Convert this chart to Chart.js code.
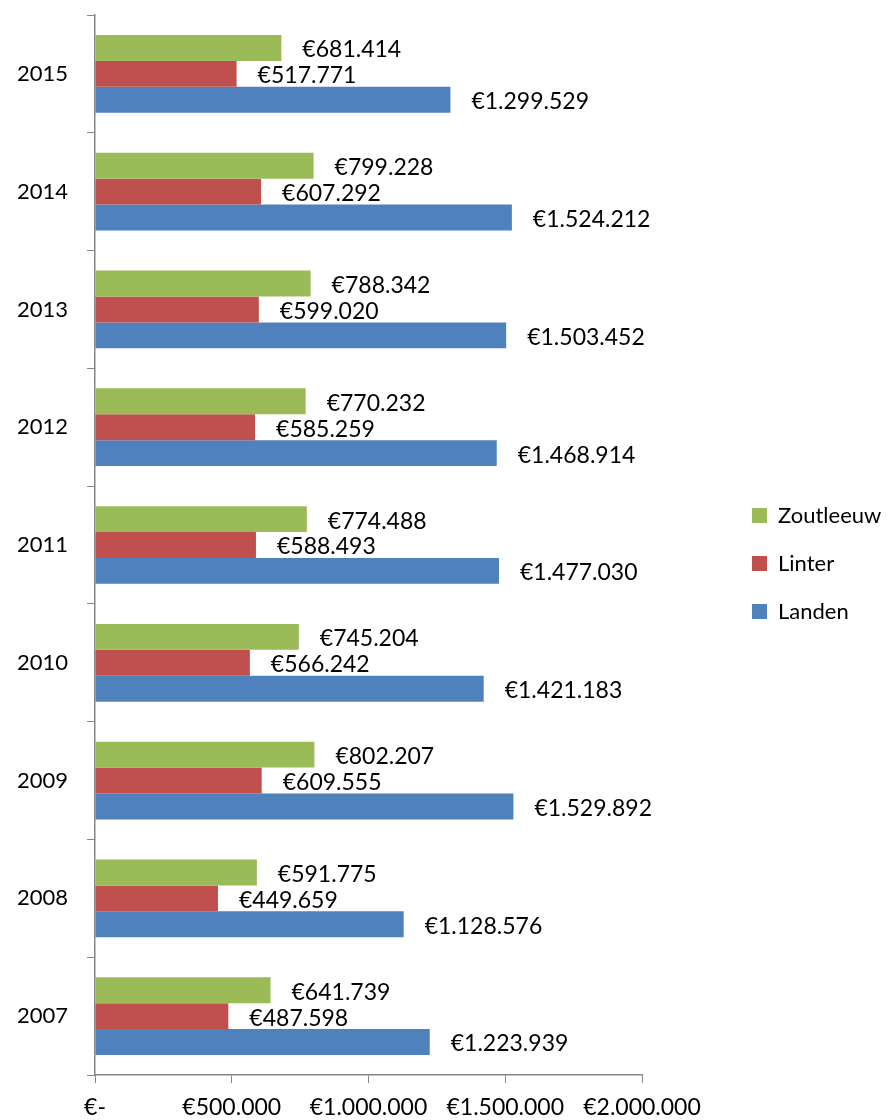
<!DOCTYPE html>
<html>
<head>
<meta charset="utf-8">
<script src="https://cdn.jsdelivr.net/npm/chart.js@4.4.1/dist/chart.umd.min.js"></script>
<style>
  html, body { margin: 0; padding: 0; background: #fff; }
  #wrap { width: 890px; height: 1120px; position: relative; }
</style>
</head>
<body>
<div id="wrap"><canvas id="revenueChart"></canvas></div>
<script>
const years = ['2015', '2014', '2013', '2012', '2011', '2010', '2009', '2008', '2007'];
const zoutleeuw = [681414, 799228, 788342, 770232, 774488, 745204, 802207, 591775, 641739];
const linter = [517771, 607292, 599020, 585259, 588493, 566242, 609555, 449659, 487598];
const landen = [1299529, 1524212, 1503452, 1468914, 1477030, 1421183, 1529892, 1128576, 1223939];
const xTicks = [0, 500000, 1000000, 1500000, 2000000];

const axisGrey = '#868686';

function euro(v) {
  if (v === 0) return '€-';
  return '€' + String(Math.round(v)).replace(/\B(?=(\d{3})+(?!\d))/g, '.');
}

// draws the value next to the end of each bar
const barLabels = {
  id: 'barLabels',
  afterDatasetsDraw(chart) {
    const ctx = chart.ctx;
    ctx.save();
    ctx.font = '23px Lato, sans-serif';
    ctx.fillStyle = '#000';
    ctx.textBaseline = 'middle';
    ctx.textAlign = 'left';
    chart.data.datasets.forEach((ds, i) => {
      chart.getDatasetMeta(i).data.forEach((bar, j) => {
        ctx.fillText(euro(ds.data[j]), bar.x + 21, bar.y + 2);
      });
    });
    ctx.restore();
  }
};

// the legend sits further right than chart.js puts it
const legendShift = {
  id: 'legendShift',
  afterLayout(chart) {
    const lg = chart.legend;
    if (!lg) return;
    lg.left += 84;
    lg.right += 84;
    lg.top -= 4;
    lg.bottom -= 4;
  }
};

new Chart(document.getElementById('revenueChart'), {
  type: 'bar',
  data: {
    labels: years,
    datasets: [
      { label: 'Zoutleeuw', data: zoutleeuw, backgroundColor: '#9BBB59' },
      { label: 'Linter', data: linter, backgroundColor: '#C0504D' },
      { label: 'Landen', data: landen, backgroundColor: '#4F81BD' }
    ]
  },
  options: {
    indexAxis: 'y',
    responsive: true,
    maintainAspectRatio: false,
    animation: false,
    datasets: { bar: { categoryPercentage: 0.66, barPercentage: 1 } },
    layout: { padding: { top: 15, right: 0, left: 0, bottom: 0 } },
    plugins: {
      tooltip: { enabled: false },
      legend: {
        position: 'right',
        labels: {
          color: '#000',
          font: { family: 'Lato', size: 22 },
          boxWidth: 15,
          boxHeight: 15,
          padding: 26
        }
      }
    },
    scales: {
      x: {
        min: 0,
        max: 2000000,
        afterBuildTicks(scale) { scale.ticks = xTicks.map(v => ({ value: v })); },
        afterFit(scale) {
          scale.height = 45;
          scale.paddingRight = 248;
          scale.paddingLeft = 0;
        },
        grid: { drawOnChartArea: false, drawTicks: true, tickLength: 8, color: axisGrey },
        border: { color: axisGrey, width: 1.5 },
        ticks: {
          color: '#000',
          font: { family: 'Lato', size: 23 },
          padding: 11,
          maxRotation: 0,
          callback: v => euro(v)
        }
      },
      y: {
        afterFit(scale) {
          scale.width = 95;
          scale.paddingTop = 0;
          scale.paddingBottom = 0;
        },
        grid: { drawOnChartArea: false, drawTicks: true, tickLength: 8, color: axisGrey, offset: true },
        border: { color: axisGrey, width: 1.5 },
        ticks: {
          color: '#000',
          font: { family: 'Lato', size: 22 },
          padding: 19
        }
      }
    }
  },
  plugins: [barLabels, legendShift]
});
</script>
</body>
</html>
